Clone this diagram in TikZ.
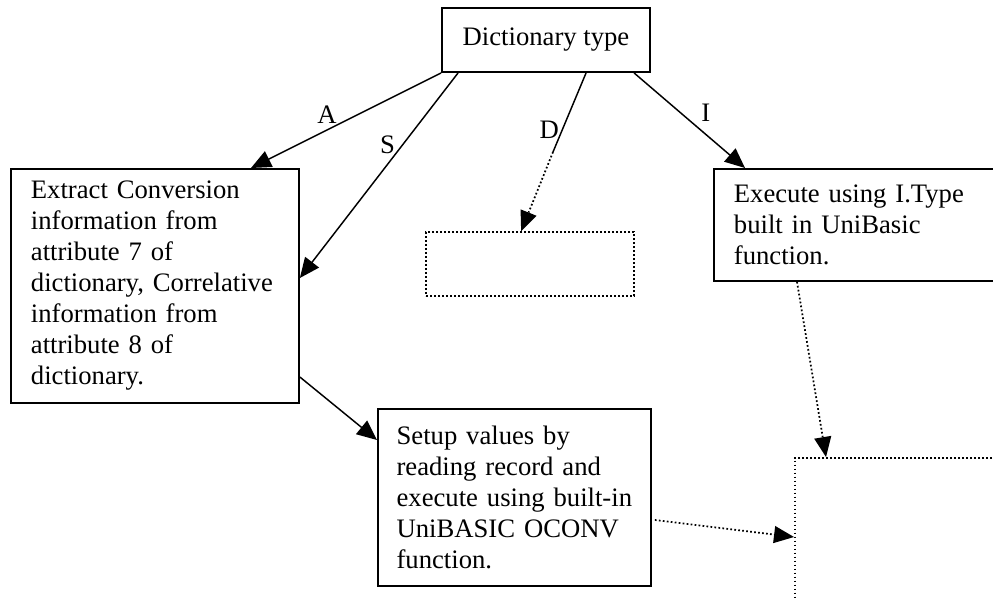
\documentclass[tikz,border=0pt]{standalone}
\usepackage{fontspec}
\setmainfont{Liberation Serif}
\usetikzlibrary{arrows.meta,calc}

\tikzset{
    box/.style={draw, line width=1.4pt, inner xsep=15pt, align=left},
    dotbox/.style={draw, line width=1.3pt, dash pattern=on 1.3pt off 1.7pt},
    link/.style={line width=1.1pt, -{Triangle[length=15pt,width=13pt]}},
    dotlink/.style={line width=1.3pt, dash pattern=on 1.3pt off 1.7pt, -{Triangle[length=15pt,width=13pt,line width=0pt]}},
    lbl/.style={inner sep=2pt}
}

\begin{document}
\begin{tikzpicture}[x=0.75pt, y=-0.75pt, font=\fontsize{20pt}{23.25pt}\selectfont]
        \useasboundingbox (0, 0) rectangle (993, 599);
        \clip (0, 0) rectangle (993, 599);

        \node[box, minimum width=156pt, minimum height=48pt] (dict) at (546, 40) {Dictionary type};

        \node[box, anchor=north west, text width=186pt, minimum height=175.5pt] (extract) at (10, 168)
            {Extract Conversion\\ information from\\ attribute 7 of\\ dictionary, Correlative\\ information from\\ attribute 8 of\\ dictionary.};

        \node[dotbox, minimum width=156pt, minimum height=48pt] (blank) at (530, 264) {};

        \node[box, anchor=north west, text width=210pt, minimum height=84pt] (itype) at (713, 168)
            {Execute using I.Type\\ built in UniBasic\\ function.};

        \node[box, anchor=north west, inner xsep=14pt, text width=176.75pt, minimum height=132.75pt] (setup) at (377, 408)
            {Setup values by\\ reading record and\\ execute using built-in\\ UniBASIC OCONV\\ function.};

        \node[dotbox, anchor=north west, minimum width=200pt, minimum height=150pt] (result) at (794, 457) {};

        \coordinate (dbreak) at (553, 152);

        \draw[link] (dict.south west) -- node[lbl, pos=0.6, above=2.6pt] (alabel) {A} ($(extract.north west)+(241, 0)$);
        \draw[link] ($(dict.south west)+(17, 0)$) -- node[lbl, pos=0.35, left=3.3pt] (slabel) {S} ($(extract.north east)+(0, 110)$);
        \draw[line width=1.1pt] ($(dict.south west)+(145, 0)$) -- node[lbl, pos=0.72, left=0pt] (dlabel) {D} (dbreak);
        \draw[dotlink] (dbreak) -- ($(blank.north west)+(96, 0)$);
        \draw[link] ($(dict.south west)+(193, 0)$) -- node[lbl, pos=0.42, right=13pt] (ilabel) {I} ($(itype.north west)+(32, 0)$);

        \draw[link] ($(extract.north east)+(0, 209)$) -- ($(setup.north west)+(0, 32)$);
        \draw[dotlink] ($(itype.south west)+(84, 0)$) -- ($(result.north west)+(32, 0)$);
        \draw[dotlink] ($(setup.north east)+(3, 112)$) -- ($(result.north west)+(0, 80)$);
    \end{tikzpicture}
\end{document}
